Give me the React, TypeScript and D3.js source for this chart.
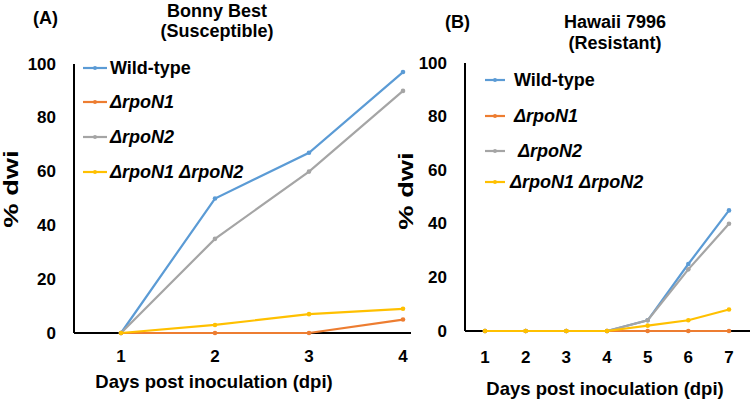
import React from "react";
import * as d3 from "d3";

const seriesNames = ["Wild-type", "ΔrpoN1", "ΔrpoN2", "ΔrpoN1 ΔrpoN2"];
const seriesColors = ["#5B9BD5", "#ED7D31", "#A5A5A5", "#FFC000"];

const daysA = [1, 2, 3, 4];
const wildTypeA = [0, 50, 67, 97];
const rpoN1A = [0, 0, 0, 5];
const rpoN2A = [0, 35, 60, 90];
const doubleA = [0, 3, 7, 9];

const daysB = [1, 2, 3, 4, 5, 6, 7];
const wildTypeB = [0, 0, 0, 0, 4, 25, 45];
const rpoN1B = [0, 0, 0, 0, 0, 0, 0];
const rpoN2B = [0, 0, 0, 0, 4, 23, 40];
const doubleB = [0, 0, 0, 0, 2, 4, 8];

const yTicks = [0, 20, 40, 60, 80, 100];

const FONT = "'Liberation Sans', Arial, sans-serif";

type PanelProps = {
  label: string;
  title: [string, string];
  days: number[];
  series: number[][];
  xRange: [number, number];
  yRange: [number, number];
  axisX: [number, number];
  titleX: number;
  titleY: [number, number];
  labelPos: [number, number];
  yLabelPos: [number, number];
  tickY: number;
  xTitle: [number, number];
  legend: { x0: number; x1: number; tx: number[]; ys: number[] };
};

function LegendName({ name }: { name: string }) {
  if (name === "Wild-type") return <>{name}</>;
  return <tspan fontStyle="italic">{name}</tspan>;
}

function Panel(p: PanelProps) {
  const x = d3.scaleLinear().domain([p.days[0], p.days[p.days.length - 1]]).range(p.xRange);
  const y = d3.scaleLinear().domain([0, 100]).range(p.yRange);
  const line = d3
    .line<number>()
    .x((_, i) => x(p.days[i]))
    .y((d) => y(d));
  const axisLeft = p.axisX[0];
  return (
    <g fontFamily={FONT} fontWeight="bold" fill="#000">
      <text x={p.labelPos[0]} y={p.labelPos[1]} fontSize={18}>{p.label}</text>
      <text x={p.titleX} y={p.titleY[0]} fontSize={18} textAnchor="middle">{p.title[0]}</text>
      <text x={p.titleX} y={p.titleY[1]} fontSize={18} textAnchor="middle">{p.title[1]}</text>
      <text
        transform={`translate(${p.yLabelPos[0]},${p.yLabelPos[1]}) rotate(-90) scale(1.3,1)`}
        fontSize={21}
        textAnchor="middle"
      >
        % dwi
      </text>
      {yTicks.map((t) => (
        <text key={t} x={axisLeft - 18} y={y(t)} fontSize={17} textAnchor="end" dominantBaseline="central">
          {t}
        </text>
      ))}
      {p.days.map((d) => (
        <text key={d} x={x(d)} y={p.tickY} fontSize={17} textAnchor="middle">
          {d}
        </text>
      ))}
      <text x={p.xTitle[0]} y={p.xTitle[1]} fontSize={18.5} textAnchor="middle">
        Days post inoculation (dpi)
      </text>
      <line x1={axisLeft} x2={axisLeft} y1={y(100)} y2={y(0)} stroke="#000" strokeWidth={2} />
      <line x1={axisLeft} x2={p.axisX[1]} y1={y(0)} y2={y(0)} stroke="#000" strokeWidth={2} />
      {p.series.map((s, si) => (
        <g key={si}>
          <path d={line(s) || ""} fill="none" stroke={seriesColors[si]} strokeWidth={2.2} />
          {s.map((v, i) => (
            <circle key={i} cx={x(p.days[i])} cy={y(v)} r={2.3} fill={seriesColors[si]} />
          ))}
        </g>
      ))}
      {seriesNames.map((n, i) => (
        <g key={n}>
          <line
            x1={p.legend.x0}
            x2={p.legend.x1}
            y1={p.legend.ys[i]}
            y2={p.legend.ys[i]}
            stroke={seriesColors[i]}
            strokeWidth={2.2}
          />
          <circle cx={(p.legend.x0 + p.legend.x1) / 2} cy={p.legend.ys[i]} r={2} fill={seriesColors[i]} />
          <text x={p.legend.tx[i]} y={p.legend.ys[i]} fontSize={18} dominantBaseline="central">
            <LegendName name={n} />
          </text>
        </g>
      ))}
    </g>
  );
}

export default function App() {
  return (
    <svg
      width={750}
      height={405}
      style={{ position: "absolute", left: 0, top: 0, background: "#fff" }}
    >
      <rect width={750} height={405} fill="#fff" />
      <Panel
        label="(A)"
        title={["Bonny Best", "(Susceptible)"]}
        days={daysA}
        series={[wildTypeA, rpoN1A, rpoN2A, doubleA]}
        xRange={[121, 403]}
        yRange={[333, 64]}
        axisX={[74, 411]}
        titleX={217}
        titleY={[17, 37]}
        labelPos={[33, 24]}
        yLabelPos={[18, 189]}
        tickY={362}
        xTitle={[214, 388]}
        legend={{ x0: 83, x1: 107, tx: [110, 110, 110, 110], ys: [68, 102, 137, 172] }}
      />
      <Panel
        label="(B)"
        title={["Hawaii 7996", "(Resistant)"]}
        days={daysB}
        series={[wildTypeB, rpoN1B, rpoN2B, doubleB]}
        xRange={[485, 729]}
        yRange={[331, 63]}
        axisX={[465, 750]}
        titleX={615}
        titleY={[28, 49]}
        labelPos={[445, 28]}
        yLabelPos={[413, 191]}
        tickY={363}
        xTitle={[605, 395]}
        legend={{ x0: 485, x1: 505, tx: [514, 514, 518, 510], ys: [80, 116, 151, 182] }}
      />
    </svg>
  );
}
